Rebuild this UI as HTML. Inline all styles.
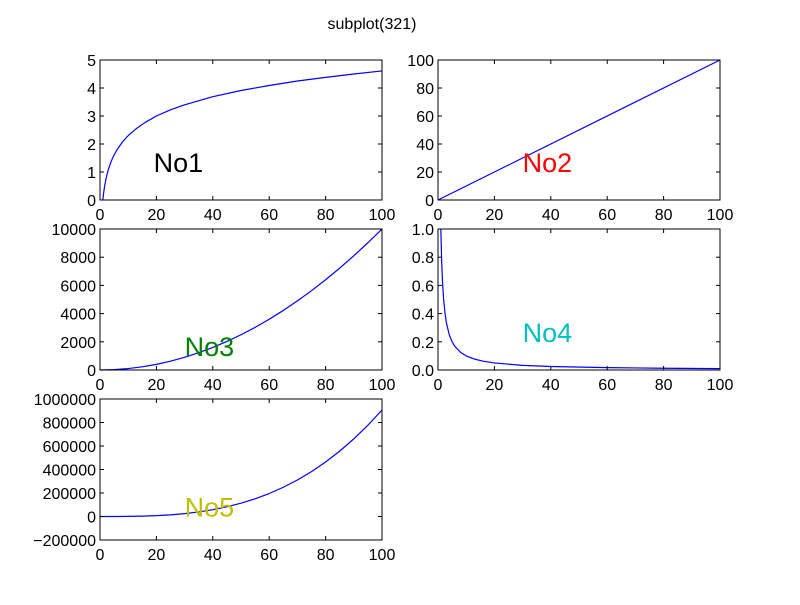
<!DOCTYPE html>
<html><head><meta charset="utf-8">
<style>
body{margin:0;background:#fff;}
svg text{font-family:"Liberation Sans","DejaVu Sans",sans-serif;}
</style></head>
<body>
<svg id="fig" width="800" height="600" xmlns="http://www.w3.org/2000/svg">
<rect width="800" height="600" fill="#fff"/>
<text x="372" y="29" font-size="16" text-anchor="middle">subplot(321)</text>
</svg>
<script>
const xTicks = [0,20,40,60,80,100];
const s1x = [1,1.3,1.6,2,2.5,3,4,5,6,8,10,13,16,20,25,30,40,50,60,70,80,90,100];
const s1y = [0,0.26,0.47,0.69,0.92,1.10,1.39,1.61,1.79,2.08,2.30,2.56,2.77,3.00,3.22,3.40,3.69,3.91,4.09,4.25,4.38,4.50,4.61];
const s1ticks = [0,1,2,3,4,5];
const s2x = [0,100];
const s2y = [0,100];
const s2ticks = [0,20,40,60,80,100];
const s3x = [0,5,10,15,20,25,30,35,40,45,50,55,60,65,70,75,80,85,90,95,100];
const s3y = [0,25,100,225,400,625,900,1225,1600,2025,2500,3025,3600,4225,4900,5625,6400,7225,8100,9025,10000];
const s3ticks = [0,2000,4000,6000,8000,10000];
const s4x = [1,1.3,1.6,2,2.5,3,4,5,6,8,10,13,16,20,30,40,60,80,100];
const s4y = [1,0.77,0.625,0.5,0.4,0.333,0.25,0.2,0.167,0.125,0.1,0.077,0.0625,0.05,0.033,0.025,0.0167,0.0125,0.01];
const s4ticks = [0.0,0.2,0.4,0.6,0.8,1.0];
const s5x = [0,5,10,15,20,25,30,35,40,45,50,55,60,65,70,75,80,85,90,95,100];
const s5y = [0,113,906,3060,7250,14160,24460,38840,58000,82560,113250,150740,195700,248820,310760,382220,463900,556440,660500,776790,906000];
const s5ticks = [-200000,0,200000,400000,600000,800000,1000000];
const labels = ["No1","No2","No3","No4","No5"];
const labelColors = ["#000","#ff0000","#008000","#00bfbf","#bfbf00"];
const labelX = [19,30,30,30,30];
const labelY = [1,20,1000,0.2,0];

const NS="http://www.w3.org/2000/svg";
const fig=document.getElementById('fig');
function el(tag,attrs,parent){const e=document.createElementNS(NS,tag);for(const k in attrs)e.setAttribute(k,attrs[k]);(parent||fig).appendChild(e);return e;}

const panels=[
 {L:100,T:60,W:282,H:140,x:s1x,y:s1y,yt:s1ticks,ymin:0,ymax:5,fmt:v=>String(v)},
 {L:438,T:60,W:282,H:140,x:s2x,y:s2y,yt:s2ticks,ymin:0,ymax:100,fmt:v=>String(v)},
 {L:100,T:229,W:282,H:141,x:s3x,y:s3y,yt:s3ticks,ymin:0,ymax:10000,fmt:v=>String(v)},
 {L:438,T:229,W:282,H:141,x:s4x,y:s4y,yt:s4ticks,ymin:0,ymax:1,fmt:v=>v.toFixed(1)},
 {L:100,T:399,W:282,H:141,x:s5x,y:s5y,yt:s5ticks,ymin:-200000,ymax:1000000,fmt:v=>(v<0?"\u2212"+(-v):String(v))}
];
panels.forEach((p,i)=>{
 const g=el('g',{});
 
 
 const sx=v=>p.L+v/100*p.W;
 const sy=v=>p.T+p.H-(v-p.ymin)/(p.ymax-p.ymin)*p.H;
 const pts=p.x.map((x,j)=>sx(x).toFixed(2)+','+sy(p.y[j]).toFixed(2)).join(' ');
 const line=el('polyline',{points:pts,fill:'none',stroke:'#0000ff','stroke-width':1.2,'stroke-linejoin':'round'},g);
 
 
 xTicks.forEach(t=>{
  const X=sx(t);
  el('line',{x1:X,x2:X,y1:p.T+p.H,y2:p.T+p.H-4,stroke:'#000'},g);
  el('line',{x1:X,x2:X,y1:p.T,y2:p.T+4,stroke:'#000'},g);
  const tx=el('text',{x:X,y:p.T+p.H+20,'font-size':16,'text-anchor':'middle'},g);
  tx.textContent=t;
  
  
 });
 p.yt.forEach(t=>{
  const Y=sy(t);
  el('line',{x1:p.L,x2:p.L+4,y1:Y,y2:Y,stroke:'#000'},g);
  el('line',{x1:p.L+p.W,x2:p.L+p.W-4,y1:Y,y2:Y,stroke:'#000'},g);
  const tx=el('text',{x:p.L-4,y:Y+6,'font-size':16,'text-anchor':'end'},g);
  tx.textContent=p.fmt(t);
  
  
 });
 const fr=el('rect',{x:p.L,y:p.T,width:p.W,height:p.H,fill:'none',stroke:'#000','stroke-width':1},g);
 
 
 const lb=el('text',{x:sx(labelX[i]),y:sy(labelY[i]),'font-size':27,fill:labelColors[i]},g);
 lb.textContent=labels[i];
 
 
});
</script>
</body></html>
